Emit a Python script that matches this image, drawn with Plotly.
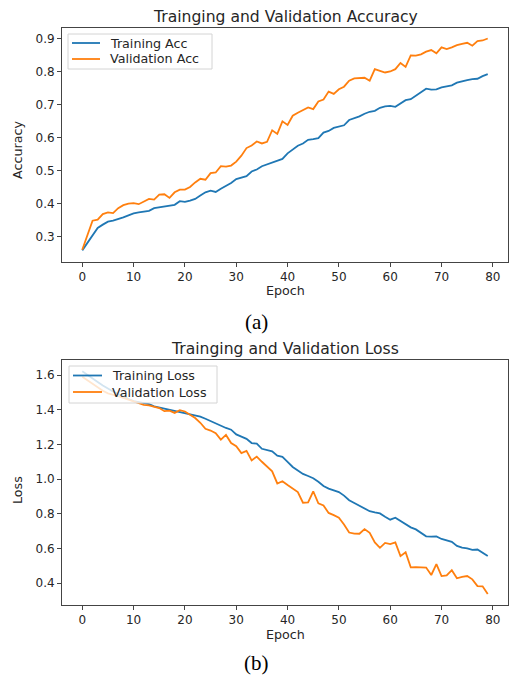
import plotly.graph_objects as go

epochs = list(range(80))

train_acc = [0.258, 0.280, 0.305, 0.326, 0.336, 0.345, 0.348, 0.352, 0.358, 0.364,
             0.370, 0.373, 0.376, 0.378, 0.386, 0.389, 0.392, 0.395, 0.396, 0.407,
             0.405, 0.409, 0.414, 0.424, 0.434, 0.439, 0.435, 0.445, 0.454, 0.462,
             0.474, 0.478, 0.483, 0.497, 0.503, 0.513, 0.519, 0.524, 0.530, 0.535,
             0.552, 0.563, 0.575, 0.582, 0.593, 0.595, 0.598, 0.615, 0.620, 0.629,
             0.633, 0.637, 0.653, 0.658, 0.664, 0.672, 0.678, 0.681, 0.690, 0.694,
             0.696, 0.693, 0.702, 0.713, 0.716, 0.726, 0.736, 0.748, 0.745, 0.746,
             0.752, 0.754, 0.758, 0.766, 0.771, 0.774, 0.777, 0.778, 0.786, 0.792]

val_acc = [0.260, 0.305, 0.348, 0.351, 0.368, 0.373, 0.371, 0.386, 0.395, 0.400,
           0.401, 0.398, 0.406, 0.414, 0.412, 0.427, 0.428, 0.417, 0.434, 0.442,
           0.442, 0.450, 0.464, 0.475, 0.472, 0.492, 0.494, 0.513, 0.512, 0.515,
           0.527, 0.545, 0.568, 0.576, 0.588, 0.582, 0.587, 0.622, 0.611, 0.649,
           0.638, 0.666, 0.675, 0.682, 0.691, 0.686, 0.709, 0.715, 0.739, 0.732,
           0.746, 0.754, 0.772, 0.779, 0.780, 0.781, 0.772, 0.807, 0.802, 0.797,
           0.800, 0.807, 0.826, 0.814, 0.849, 0.848, 0.852, 0.860, 0.865, 0.855,
           0.873, 0.868, 0.873, 0.880, 0.884, 0.887, 0.878, 0.892, 0.894, 0.900]

train_loss = [1.622, 1.600, 1.580, 1.560, 1.540, 1.520, 1.505, 1.490, 1.475, 1.462,
              1.450, 1.445, 1.437, 1.432, 1.420, 1.413, 1.408, 1.400, 1.395, 1.385,
              1.380, 1.375, 1.365, 1.360, 1.348, 1.335, 1.322, 1.305, 1.295, 1.285,
              1.258, 1.245, 1.232, 1.208, 1.205, 1.175, 1.168, 1.160, 1.135, 1.128,
              1.100, 1.070, 1.050, 1.030, 1.018, 1.005, 0.985, 0.960, 0.945, 0.935,
              0.925, 0.905, 0.878, 0.862, 0.845, 0.832, 0.815, 0.808, 0.802, 0.783,
              0.766, 0.777, 0.760, 0.740, 0.722, 0.710, 0.688, 0.670, 0.668, 0.669,
              0.655, 0.645, 0.638, 0.615, 0.605, 0.600, 0.592, 0.594, 0.575, 0.556]

val_loss = [1.590, 1.570, 1.548, 1.528, 1.510, 1.495, 1.488, 1.478, 1.468, 1.457,
            1.448, 1.435, 1.428, 1.425, 1.418, 1.410, 1.392, 1.395, 1.382, 1.398,
            1.390, 1.372, 1.352, 1.325, 1.290, 1.280, 1.265, 1.228, 1.255, 1.208,
            1.190, 1.150, 1.163, 1.108, 1.130, 1.100, 1.072, 1.045, 0.975, 0.988,
            0.966, 0.945, 0.925, 0.864, 0.866, 0.930, 0.860, 0.848, 0.805, 0.792,
            0.778, 0.738, 0.692, 0.686, 0.685, 0.712, 0.690, 0.635, 0.604, 0.632,
            0.625, 0.635, 0.556, 0.578, 0.491, 0.492, 0.492, 0.490, 0.447, 0.510,
            0.441, 0.445, 0.475, 0.428, 0.436, 0.441, 0.422, 0.383, 0.382, 0.337]

x_ticks = [0, 10, 20, 30, 40, 50, 60, 70, 80]
acc_ticks = [0.3, 0.4, 0.5, 0.6, 0.7, 0.8, 0.9]
loss_ticks = [0.4, 0.6, 0.8, 1.0, 1.2, 1.4, 1.6]

BLUE = "#1f77b4"
ORANGE = "#ff7f0e"
FONT = "DejaVu Sans"
TXT = "#262626"

W, H = 509, 677
L, R, T, B = 62, 1, 28, 72
PW = W - L - R
PH = H - T - B


def py(pix):
    return (H - B - pix) / PH


def px(pix):
    return (pix - L) / PW


fig = go.Figure()
fig.add_trace(go.Scatter(x=epochs, y=train_acc, mode="lines", name="Training Acc",
                         line=dict(color=BLUE, width=1.8), xaxis="x", yaxis="y"))
fig.add_trace(go.Scatter(x=epochs, y=val_acc, mode="lines", name="Validation Acc",
                         line=dict(color=ORANGE, width=1.8), xaxis="x", yaxis="y"))
fig.add_trace(go.Scatter(x=epochs, y=train_loss, mode="lines", name="Training Loss",
                         line=dict(color=BLUE, width=1.8), xaxis="x2", yaxis="y2"))
fig.add_trace(go.Scatter(x=epochs, y=val_loss, mode="lines", name="Validation Loss",
                         line=dict(color=ORANGE, width=1.8), xaxis="x2", yaxis="y2"))

axis_common = dict(showline=True, mirror=True, linecolor="#444", linewidth=1,
                   ticks="outside", ticklen=4, tickcolor="#444", showgrid=False,
                   zeroline=False, tickfont=dict(family=FONT, size=12, color=TXT))

fig.update_layout(
    width=W, height=H,
    margin=dict(l=L, r=R, t=T, b=B),
    paper_bgcolor="white", plot_bgcolor="white",
    xaxis=dict(domain=[0, 1], anchor="y", range=[-3.95, 82.95], tickvals=x_ticks, **axis_common),
    yaxis=dict(domain=[py(262), 1], anchor="x", range=[0.2228, 0.9318], tickvals=acc_ticks,
               tickformat=".1f", **axis_common),
    xaxis2=dict(domain=[0, 1], anchor="y2", range=[-3.95, 82.95], tickvals=x_ticks, **axis_common),
    yaxis2=dict(domain=[0, py(360)], anchor="x2", range=[0.274, 1.687], tickvals=loss_ticks,
                tickformat=".1f", **axis_common),
    showlegend=False,
)


def add_text(text, xpix, ypix, size, family=FONT, color=TXT, anchor="center", angle=0):
    fig.add_annotation(text=text, x=px(xpix), y=py(ypix), xref="paper", yref="paper",
                       xanchor=anchor, yanchor="middle", showarrow=False, textangle=angle,
                       font=dict(family=family, size=size, color=color))


add_text("Trainging and Validation Accuracy", 285, 17, 15.6)
add_text("Trainging and Validation Loss", 285, 349, 15.6)
add_text("Epoch", 285, 290, 12.7)
add_text("Epoch", 285, 634, 12.7)
add_text("Accuracy", 17, 150, 12.7, angle=-90)
add_text("Loss", 17, 490, 12.7, angle=-90)
add_text("(a)", 256, 322, 21, family="Liberation Serif", color="black")
add_text("(b)", 256, 663, 21, family="Liberation Serif", color="black")


def add_legend(box, entries):
    x0, y0, x1, y1 = box
    fig.add_shape(type="rect", xref="paper", yref="paper",
                  x0=px(x0), x1=px(x1), y0=py(y1), y1=py(y0),
                  fillcolor="rgba(255,255,255,0.8)", line=dict(color="#d4d4d4", width=1),
                  layer="above")
    for (name, color, ly, lx0, lx1, tx) in entries:
        fig.add_shape(type="line", xref="paper", yref="paper",
                      x0=px(lx0), x1=px(lx1), y0=py(ly), y1=py(ly),
                      line=dict(color=color, width=1.8), layer="above")
        add_text(name, tx, ly, 12.7, anchor="left")


add_legend((68, 34, 212, 69), [
    (fig.data[0].name, BLUE, 43, 72, 100, 108),
    (fig.data[1].name, ORANGE, 59, 72, 100, 108),
])
add_legend((69, 366, 217, 403), [
    (fig.data[2].name, BLUE, 375.5, 73, 102, 110),
    (fig.data[3].name, ORANGE, 392, 73, 102, 110),
])

fig.write_html("out.html")
